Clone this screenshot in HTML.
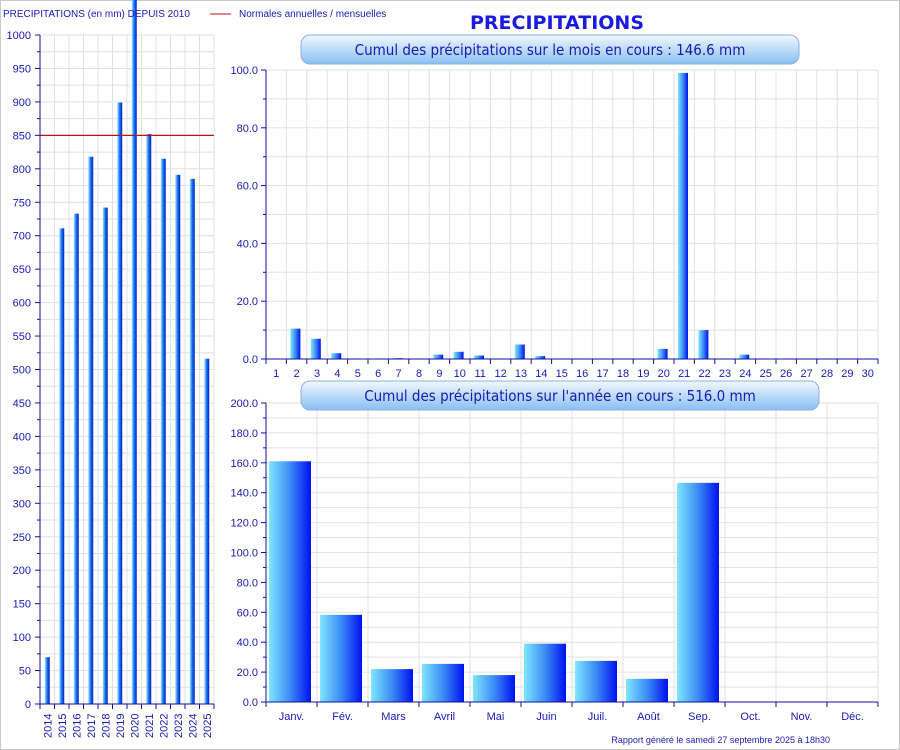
<!DOCTYPE html>
<html><head><meta charset="utf-8"><style>
html,body{margin:0;padding:0;background:#fff;}
svg{display:block;font-family:"Liberation Sans",sans-serif;}
</style></head><body>
<svg id="s" width="900" height="750" xmlns="http://www.w3.org/2000/svg">
<defs>
<linearGradient id="gb" x1="0" x2="1" y1="0" y2="0"><stop offset="0" stop-color="#7fe6ff"/><stop offset="0.5" stop-color="#3c8cf5"/><stop offset="1" stop-color="#0010f0"/></linearGradient>
<linearGradient id="gn" x1="0" x2="1" y1="0" y2="0"><stop offset="0" stop-color="#9fe8ff"/><stop offset="0.5" stop-color="#1a6ef0"/><stop offset="1" stop-color="#0020c8"/></linearGradient>
<linearGradient id="gbox" x1="0" x2="0" y1="0" y2="1"><stop offset="0" stop-color="#f2f8ff"/><stop offset="1" stop-color="#88bff2"/></linearGradient>
</defs>
<rect x="0.5" y="0.5" width="899" height="749" fill="#fff" stroke="#c8c8c8"/>
<g id="g"></g>
</svg>
<script>
var g=document.getElementById('g'),NS='http://www.w3.org/2000/svg';
function el(t,a,txt){var e=document.createElementNS(NS,t);for(var k in a)e.setAttribute(k,a[k]);if(txt!=null)e.textContent=txt;g.appendChild(e);return e;}
var B='#1010a0',TX='#1a1ab4';
// ===== left chart =====
var x0=40,x1=214,yT=35,yB=704,sc=(yB-yT)/1000;
for(var v=0;v<=1000;v+=25){var y=yB-v*sc;el('line',{x1:x0,x2:x1,y1:y,y2:y,stroke:'#e0e0e0'});}
var sw=(x1-x0)/12;
for(var i=1;i<=12;i++){var x=x0+i*sw;el('line',{x1:x,x2:x,y1:yT,y2:yB,stroke:'#e0e0e0'});}
var yrs=[70,711,733,818,742,899,1060,852,815,791,785,516];
for(var i=0;i<12;i++){var h=Math.min(yrs[i],1060)*sc;var y=Math.max(yB-h,0);var cx=x0+i*sw+sw/2;
el('rect',{x:cx-2.5,y:y,width:5,height:yB-y,fill:'url(#gn)'});
var t=el('text',{x:0,y:0,'font-size':11,fill:TX,transform:'translate('+(cx+4)+',738) rotate(-90)'},String(2014+i));}
el('line',{x1:x0,x2:x1,y1:yB-850*sc,y2:yB-850*sc,stroke:'#c01010','stroke-width':1.2});
el('line',{x1:x0,x2:x0,y1:yT,y2:yB,stroke:B});
el('line',{x1:x0,x2:x1,y1:yB,y2:yB,stroke:B});
for(var v=0;v<=1000;v+=25){var y=yB-v*sc;el('line',{x1:x0-(v%50?3:5),x2:x0,y1:y,y2:y,stroke:B});
if(v%50==0)el('text',{x:31,y:y+4,'font-size':11,fill:TX,'text-anchor':'end'},String(v));}
for(var i=0;i<=12;i++){var x=x0+i*sw;el('line',{x1:x,x2:x,y1:yB,y2:yB+5,stroke:B});}
el('text',{x:3,y:17,'font-size':10,fill:TX},'PRECIPITATIONS (en mm) DEPUIS 2010');
el('line',{x1:210,x2:231,y1:14,y2:14,stroke:'#c01010'});
el('text',{x:239,y:17,'font-size':10,fill:TX},'Normales annuelles / mensuelles');
// title
el('text',{x:557,y:29,'font-size':19,'font-weight':'bold',fill:'#1a1ae0','text-anchor':'middle','font-family':'"DejaVu Sans",sans-serif'},'PRECIPITATIONS');
// ===== month chart =====
function chart(xa,xb,ya,yb,max,step,minor,n,vals,bw,off,labels,fmt,grad,boxx,boxw,boxy,title){
 var s=(yb-ya)/max,w=(xb-xa)/n;
 for(var v=0;v<=max;v+=minor){var y=yb-v*s;el('line',{x1:xa,x2:xb,y1:y,y2:y,stroke:'#e2e2e2'});}
 for(var i=1;i<=n;i++){var x=xa+i*w;el('line',{x1:x,x2:x,y1:ya,y2:yb,stroke:'#e2e2e2'});}
 for(var i=0;i<n;i++){var v=vals[i]||0;if(v>0){var h=v*s;el('rect',{x:xa+i*w+off,y:yb-h,width:bw,height:h,fill:grad});}}
 el('line',{x1:xa,x2:xa,y1:ya,y2:yb,stroke:B});el('line',{x1:xa,x2:xb,y1:yb,y2:yb,stroke:B});
 for(var v=0;v<=max;v+=minor){var y=yb-v*s;el('line',{x1:xa-(v%step?3:5),x2:xa,y1:y,y2:y,stroke:B});
  if(v%step==0)el('text',{x:xa-8,y:y+4,'font-size':11,fill:TX,'text-anchor':'end'},v.toFixed(1));}
 for(var i=0;i<=n;i++){var x=xa+i*w;el('line',{x1:x,x2:x,y1:yb,y2:yb+5,stroke:B});}
 for(var i=0;i<n;i++)el('text',{x:xa+i*w+w/2,y:yb+18,'font-size':11,fill:TX,'text-anchor':'middle'},labels[i]);
 el('rect',{x:boxx,y:boxy,width:boxw,height:29,rx:9,fill:'url(#gbox)',stroke:'#8fb0d8'});
 el('text',{x:boxx+boxw/2,y:boxy+20,'font-size':15,fill:'#1a1ab4','text-anchor':'middle','font-family':'"DejaVu Sans Condensed","DejaVu Sans",sans-serif'},title);
}
var d=[];for(var i=0;i<30;i++)d.push(0);
var dv={2:10.5,3:7,4:2,7:0.3,9:1.5,10:2.5,11:1.2,13:5,14:1,20:3.5,21:99,22:10,24:1.5};
for(var k in dv)d[k-1]=dv[k];
var dl=[];for(var i=1;i<=30;i++)dl.push(String(i));
chart(266,878,70,359,100,20,10,30,d,10,4,dl,1,'url(#gb)',301,498,35,'Cumul des précipitations sur le mois en cours : 146.6 mm');
chart(266,878,403,702,200,20,10,12,[161,58.3,22,25.5,18,39,27.5,15.5,146.6],42,3,['Janv.','Fév.','Mars','Avril','Mai','Juin','Juil.','Août','Sep.','Oct.','Nov.','Déc.'],1,'url(#gb)',301,518,381,"Cumul des précipitations sur l'année en cours : 516.0 mm");
el('text',{x:830,y:743,'font-size':9,fill:TX,'text-anchor':'end'},'Rapport généré le samedi 27 septembre 2025 à 18h30');
</script>
</body></html>
